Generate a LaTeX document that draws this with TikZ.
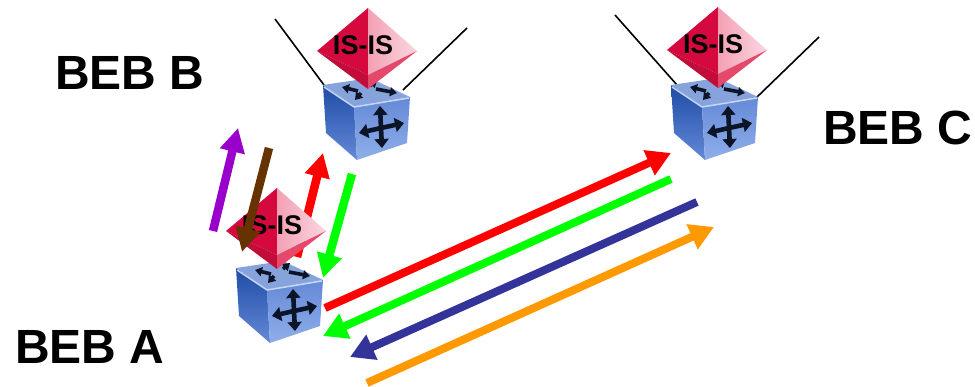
\documentclass[tikz,border=0pt]{standalone}
\usepackage{fontspec}
\setmainfont{Liberation Sans}
\usetikzlibrary{arrows.meta}
\definecolor{cubeDark}{HTML}{1F4CA6}
\definecolor{cubeMid}{HTML}{6489D6}
\definecolor{cubeLight}{HTML}{8FAEEA}
\definecolor{cubeTop}{HTML}{86A3DC}
\definecolor{cubeEdge}{HTML}{C6D6F4}
\definecolor{cubeIcon}{HTML}{0C1428}
\definecolor{isisDark}{HTML}{C20D3A}
\definecolor{isisRed}{HTML}{D6093F}
\definecolor{isisPink}{HTML}{F3A0B4}
\definecolor{isisPale}{HTML}{FAD8E0}
\definecolor{isisLow}{HTML}{E4486B}
\definecolor{flowPurple}{HTML}{9900CC}
\definecolor{flowBrown}{HTML}{663300}
\definecolor{flowGreen}{HTML}{00FF00}
\definecolor{flowBlue}{HTML}{333399}
\definecolor{flowOrange}{HTML}{FF9900}
\tikzset{
  flow/.style={line width=8.5pt,-{Triangle[length=24pt,width=24pt]}},
  longflow/.style={line width=8pt,-{Triangle[length=24pt,width=26pt]}},
  wire/.style={line width=1.6pt,black},
  beblabel/.style={font=\fontsize{48}{48}\selectfont\bfseries,text=black,inner sep=0pt,anchor=base west},
  isislabel/.style={font=\fontsize{27}{27}\selectfont\bfseries,text=black,inner sep=0pt},
  icon/.style={line width=4.6pt,cubeIcon,-{Triangle[length=9pt,width=14pt]}},
  minicon/.style={line width=3.6pt,cubeIcon,-{Triangle[length=7pt,width=9pt]}},
  switchcube/.pic={
    \shade[top color=cubeDark,bottom color=cubeMid] (0,0) -- (31,22) -- (34,75) -- (3,48) -- cycle;
    \shade[top color=cubeMid,bottom color=cubeLight] (31,22) -- (87,12) -- (84,58) -- (34,75) -- cycle;
    \fill[cubeTop] (0,0) -- (47,-7) -- (87,12) -- (31,22) -- cycle;
    \draw[cubeEdge,line width=1.5pt,line join=round] (1,2) -- (31,22) -- (86,13);
    \draw[minicon] (35,6) -- (19,2);
    \draw[minicon] (47,1) -- (54,-5);
    \draw[minicon] (53,4) -- (74,8);
    \draw[minicon] (38,8) -- (32,15);
    \draw[icon] (58,43) -- (57,21);
    \draw[icon] (58,43) -- (59,63);
    \draw[icon] (58,43) -- (36,48);
    \draw[icon] (58,43) -- (81,38);
  },
  isisdiamond/.pic={
    \fill[isisRed] (0,0) -- (-51,43) -- (0,67) -- cycle;
    \shade[left color=isisPink,right color=isisPale] (0,0) -- (49,43) -- (0,67) -- cycle;
    \fill[isisDark] (-51,43) -- (0,67) -- (0,81) -- cycle;
    \fill[isisLow] (49,43) -- (0,67) -- (0,81) -- cycle;
    \node[isislabel] (-label) at (-5,37) {IS-IS};
  }
}
\begin{document}
\begin{tikzpicture}[x=1pt,y=-1pt]
\useasboundingbox (0,0) rectangle (975,387);
% free ends of the connectors
\coordinate (bwa) at (275,19);  \coordinate (bwb) at (324,85);
\coordinate (bwc) at (467,28);  \coordinate (bwd) at (403,90);
\coordinate (cwa) at (615,15);  \coordinate (cwb) at (677,85);
\coordinate (cwc) at (819,37);  \coordinate (cwd) at (756,98);
\coordinate (purpleS) at (213,231); \coordinate (purpleE) at (238,128);
\coordinate (brownS) at (269,148);  \coordinate (brownE) at (242,252);
\coordinate (redS) at (297,257);    \coordinate (redE) at (323,153);
\coordinate (greenS) at (352,174);  \coordinate (greenE) at (323,278);
\coordinate (lredS) at (325,308);   \coordinate (lredE) at (671,153);
\coordinate (lgreenS) at (671,179); \coordinate (lgreenE) at (323,336);
\coordinate (lblueS) at (697,202);  \coordinate (lblueE) at (350,357);
\coordinate (lorangeS) at (367,383);\coordinate (lorangeE) at (714,227);

\draw[wire] (bwa) -- (bwb);
\draw[wire] (bwc) -- (bwd);
\draw[wire] (cwa) -- (cwb);
\draw[wire] (cwc) -- (cwd);

\pic (cubeB) at (323,85) {switchcube};
\pic (cubeC) at (671,85) {switchcube};
\pic (isisB) at (368,8) {isisdiamond};
\pic (isisC) at (718,7) {isisdiamond};

\draw[flow,red] (redS) -- (redE);
\pic (cubeA) at (236,268) {switchcube};
\pic (isisA) at (277,188) {isisdiamond};

\draw[flow,flowPurple] (purpleS) -- (purpleE);
\draw[flow,flowBrown] (brownS) -- (brownE);
\draw[flow,flowGreen] (greenS) -- (greenE);
\draw[longflow,red] (lredS) -- (lredE);
\draw[longflow,flowGreen] (lgreenS) -- (lgreenE);
\draw[longflow,flowBlue] (lblueS) -- (lblueE);
\draw[longflow,flowOrange] (lorangeS) -- (lorangeE);

\node[beblabel] (bebB) at (55,90) {BEB B};
\node[beblabel] (bebC) at (823,145) {BEB C};
\node[beblabel] (bebA) at (15,364) {BEB A};
\end{tikzpicture}
\end{document}
